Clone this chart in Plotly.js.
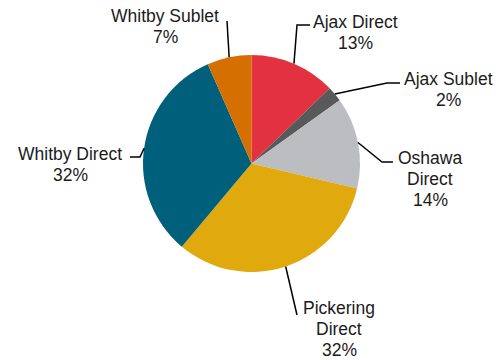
<!DOCTYPE html>
<html>
<head>
<meta charset="utf-8">
<script src="https://cdn.plot.ly/plotly-3.0.1.min.js"></script>
<style>html,body{margin:0;padding:0;background:#fff;}#chart{width:499px;height:360px;}</style>
</head>
<body>
<div id="chart"></div>
<script>
// ---- data ----
const categories = ["Ajax Direct", "Ajax Sublet", "Oshawa Direct", "Pickering Direct", "Whitby Direct", "Whitby Sublet"];
const shares = [12.8, 2.3, 13.6, 32.4, 32.3, 6.6];
const labelLines = [["Ajax Direct"], ["Ajax Sublet"], ["Oshawa", "Direct"], ["Pickering", "Direct"], ["Whitby Direct"], ["Whitby Sublet"]];
const colors = ["#E3323F", "#58595B", "#BCBDC0", "#E0AA0F", "#005F7A", "#D46F00"];

// ---- layout config (pixels) ----
const W = 499, H = 360;
const cx = 251.5, cy = 163.5, R = 108.5;
// label placement: x center, first line y, leader elbow points after the edge point
const labelCfg = [
  {x: 355, y: 22, elbow: [[297, 25], [310, 25]]},
  {x: 448, y: 79, elbow: [[387, 83], [400, 83]]},
  {x: 430, y: 158, elbow: [[382, 162], [393, 162]]},
  {x: 339, y: 308, elbow: [[297, 315]]},
  {x: 70, y: 154, elbow: [[140, 157], [130, 157]]},
  {x: 165, y: 16, elbow: [[227, 21]]}
];
const lineStep = 21;

const px = x => x / W;
const py = y => 1 - y / H;

const total = shares.reduce((a, b) => a + b, 0);
let cum = 0;
const annotations = [];
const shapes = [];
const font = {family: "Liberation Sans, Arial, sans-serif", size: 17.5, color: "#1b1b1b"};

shares.forEach((v, i) => {
  const mid = (cum + v / 2) / total * 2 * Math.PI;
  cum += v;
  const ex = cx + R * Math.sin(mid), ey = cy - R * Math.cos(mid);
  const cfg = labelCfg[i];
  const lines = labelLines[i].concat([Math.round(v / total * 100) + "%"]);
  lines.forEach((t, k) => {
    annotations.push({
      xref: "paper", yref: "paper", x: px(cfg.x), y: py(cfg.y + k * lineStep),
      xanchor: "center", yanchor: "middle", text: t, showarrow: false, font: font
    });
  });
  const pts = [[ex, ey]].concat(cfg.elbow);
  let path = "M " + px(pts[0][0]) + " " + py(pts[0][1]);
  for (let k = 1; k < pts.length; k++) path += " L " + px(pts[k][0]) + " " + py(pts[k][1]);
  shapes.push({type: "path", xref: "paper", yref: "paper", path: path, line: {color: "#000", width: 1.5}});
});

const trace = {
  type: "pie",
  labels: categories,
  values: shares,
  sort: false,
  direction: "clockwise",
  rotation: 0,
  marker: {colors: colors, line: {width: 0}},
  textinfo: "none",
  hoverinfo: "label+percent",
  domain: {x: [px(cx - R), px(cx + R)], y: [py(cy + R), py(cy - R)]}
};

Plotly.newPlot("chart", [trace], {
  width: W, height: H,
  margin: {l: 0, r: 0, t: 0, b: 0},
  showlegend: false,
  paper_bgcolor: "#fff",
  annotations: annotations,
  shapes: shapes
}, {displayModeBar: false, staticPlot: true});
</script>
</body>
</html>
